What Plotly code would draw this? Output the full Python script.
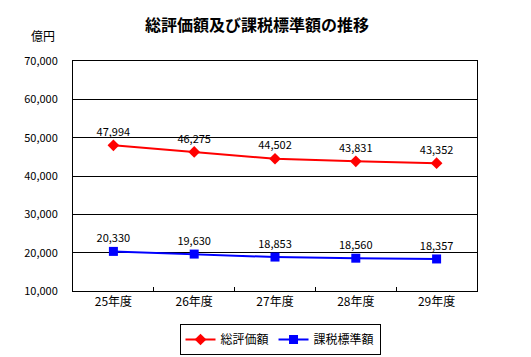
import plotly.graph_objects as go

categories = ["25年度", "26年度", "27年度", "28年度", "29年度"]
total_value = [47994, 46275, 44502, 43831, 43352]
tax_base = [20330, 19630, 18853, 18560, 18357]
y_ticks = [10000, 20000, 30000, 40000, 50000, 60000, 70000]

FONT = "Noto Sans CJK JP"
OFF = 8  # page body margin

W, H = 531 - OFF, 357 - OFF
L, T = 73 - OFF, 61 - OFF
R = W - (477 - OFF)
B = H - (291 - OFF)
PW, PH = W - L - R, H - T - B

fig = go.Figure()
fig.add_trace(go.Scatter(
    x=categories, y=total_value, name="総評価額",
    mode="lines+markers+text",
    line=dict(color="#FF0000", width=2),
    marker=dict(symbol="diamond", size=9, color="#FF0000"),
    text=[f"{v:,}" for v in total_value], textposition="top center",
    textfont=dict(family=FONT, size=11, color="black"),
    cliponaxis=False,
))
fig.add_trace(go.Scatter(
    x=categories, y=tax_base, name="課税標準額",
    mode="lines+markers+text",
    line=dict(color="#0000FF", width=2),
    marker=dict(symbol="square", size=9, color="#0000FF"),
    text=[f"{v:,}" for v in tax_base], textposition="top center",
    textfont=dict(family=FONT, size=11, color="black"),
    cliponaxis=False,
))

fig.update_layout(
    width=W, height=H,
    margin=dict(l=L, r=R, t=T, b=B, autoexpand=False),
    paper_bgcolor="white", plot_bgcolor="white",
    font=dict(family=FONT, size=11, color="black"),
    title=dict(text="<b>総評価額及び課税標準額の推移</b>", x=(257 - OFF) / W, xanchor="center",
               y=1 - (25 - OFF) / H, yanchor="middle", font=dict(family=FONT, size=16)),
    showlegend=True,
    legend=dict(orientation="h", x=(280 - 73) / PW, xanchor="center",
                y=-(339.5 - 291) / PH, yanchor="middle",
                bordercolor="black", borderwidth=1, bgcolor="white",
                font=dict(family=FONT, size=12), itemwidth=30,
                tracegroupgap=0),
    annotations=[dict(text="億円", xref="paper", yref="paper",
                      x=-(73 - 43) / PW, y=1 + (61 - 36) / PH,
                      xanchor="center", yanchor="middle", showarrow=False,
                      font=dict(family=FONT, size=12))],
)
fig.update_xaxes(
    type="category", showline=True, linecolor="black", linewidth=1, mirror=True,
    ticks="inside", tickson="boundaries", ticklen=4, tickcolor="black",
    showgrid=False, tickfont=dict(family=FONT, size=12), range=[-0.5, 4.5],
    automargin=False,
)
fig.update_yaxes(
    range=[10000, 70000], tickvals=y_ticks, tickformat=",d",
    showline=True, linecolor="black", linewidth=1, mirror=True,
    showgrid=True, gridcolor="black", gridwidth=1, zeroline=False,
    ticks="", ticklabelstandoff=12, tickfont=dict(family=FONT, size=11),
    automargin=False,
)

fig.write_html("out.html")
